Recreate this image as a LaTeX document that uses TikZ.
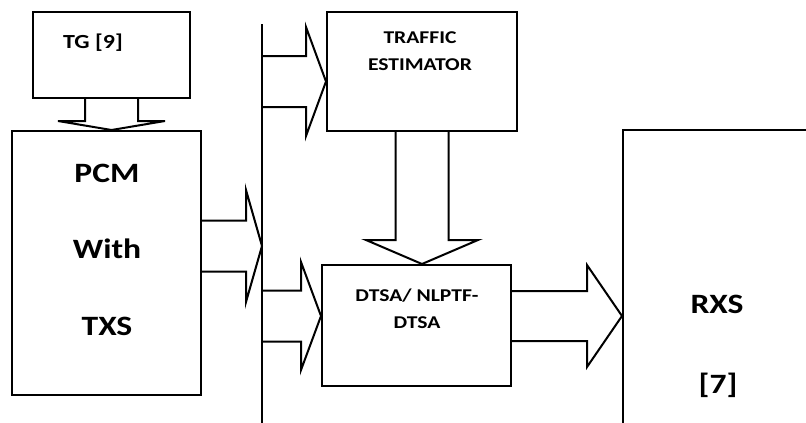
\documentclass[tikz,border=0pt]{standalone}
\usepackage{fontspec}
\setmainfont{Carlito}[FakeStretch=1.2]
\usepackage{tikz}
\usetikzlibrary{calc}
\newcommand{\blockarrow}[5]{
	\coordinate (ba) at ($(#2)!#5!(#1)$);
	\draw ($(#1)!#3!90:(#2)$) -- ($(ba)!#3!90:(#2)$) -- ($(ba)!#4!90:(#2)$) -- (#2)
		-- ($(ba)!#4!-90:(#2)$) -- ($(ba)!#3!-90:(#2)$) -- ($(#1)!#3!-90:(#2)$);
}

\begin{document}
\begin{tikzpicture}[x=1pt,y=-1pt,line width=2pt,line join=miter,
	box/.style={draw, inner sep=0pt},
	bigtxt/.style={font=\bfseries\fontsize{28}{32}\selectfont, anchor=base, inner sep=0pt},
	smalltxt/.style={font=\bfseries\fontsize{18}{27}\selectfont, anchor=base, inner sep=0pt, align=center}]
	\clip (0,0) rectangle (806,423);

	\node[box, minimum width=157pt, minimum height=86pt] (tg) at (111.5,55) {};
	\node[box, minimum width=189pt, minimum height=264pt] (pcm) at (106.5,263) {};
	\node[box, minimum width=190pt, minimum height=119pt] (te) at (422,71.5) {};
	\node[box, minimum width=189pt, minimum height=121pt] (dtsa) at (416.5,325.5) {};
	\node[box, minimum width=207pt, minimum height=320pt] (rxs) at (726.5,290) {};

	\node[smalltxt, font=\bfseries\fontsize{20}{27}\selectfont] (tgtxt) at (93,48) {TG [9]};
	\node[bigtxt] (pcmtxt) at (107,182) {PCM};
	\node[bigtxt] (withtxt) at (107,258) {With};
	\node[bigtxt] (txstxt) at (107,335) {TXS};
	\node[smalltxt] (tetxt) at (420,70) {TRAFFIC\\ESTIMATOR};
	\node[smalltxt] (dtsatxt) at (417,328) {DTSA/ NLPTF-\\DTSA};
	\node[bigtxt] (rxstxt) at (717,313) {RXS};
	\node[bigtxt] (reftxt) at (718,393) {[7]};

	\coordinate (bustop) at (262,24);
	\coordinate (busbot) at (262,430);
	\coordinate (tap-te) at (262,81.5);
	\coordinate (tap-pcm) at (262,246);
	\coordinate (tap-dtsa) at (262,316);
	\draw (bustop) -- (busbot);

	\blockarrow{tg.south}{tg.south |- pcm.north}{26.5pt}{53.5pt}{9pt}
	\blockarrow{pcm.east |- tap-pcm}{tap-pcm}{25.5pt}{56pt}{16pt}
	\blockarrow{tap-te}{te.west |- tap-te}{25.5pt}{54.5pt}{20pt}
	\blockarrow{te.south}{te.south |- dtsa.north}{26.5pt}{56pt}{24pt}
	\blockarrow{tap-dtsa}{dtsa.west |- tap-dtsa}{25.5pt}{54pt}{20pt}
	\blockarrow{dtsa.east |- tap-dtsa}{rxs.west |- tap-dtsa}{25pt}{51pt}{35pt}
\end{tikzpicture}
\end{document}
